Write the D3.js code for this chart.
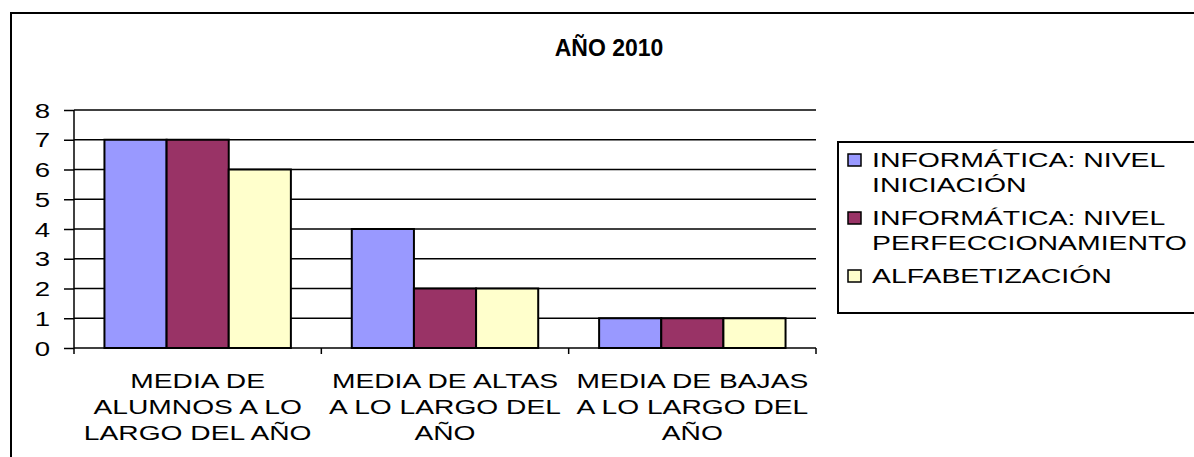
<!DOCTYPE html>
<html><head><meta charset="utf-8">
<script src="https://cdn.jsdelivr.net/npm/d3@7"></script>
<style>html,body{margin:0;padding:0;background:#fff;}svg{display:block;}</style>
</head><body>
<svg id="c" width="1194" height="457"></svg>
<script>
const categories = ["MEDIA DE ALUMNOS A LO LARGO DEL AÑO","MEDIA DE ALTAS A LO LARGO DEL AÑO","MEDIA DE BAJAS A LO LARGO DEL AÑO"];
const categoryLines = [["MEDIA DE","ALUMNOS A LO","LARGO DEL AÑO"],["MEDIA DE ALTAS","A LO LARGO DEL","AÑO"],["MEDIA DE BAJAS","A LO LARGO DEL","AÑO"]];
const seriesNames = ["INFORMÁTICA: NIVEL INICIACIÓN","INFORMÁTICA: NIVEL PERFECCIONAMIENTO","ALFABETIZACIÓN"];
const seriesLines = [["INFORMÁTICA: NIVEL","INICIACIÓN"],["INFORMÁTICA: NIVEL","PERFECCIONAMIENTO"],["ALFABETIZACIÓN"]];
const iniciacion = [7,4,1];
const perfeccionamiento = [7,2,1];
const alfabetizacion = [6,2,1];
const yTicks = [0,1,2,3,4,5,6,7,8];
const title = "AÑO 2010";
const colors = ["#9999FF","#993366","#FFFFCC"];

const seriesValues = [iniciacion, perfeccionamiento, alfabetizacion];
const svg = d3.select("#c");
const FONT = "'Liberation Sans', Arial, sans-serif";

// outer frame
svg.append("path").attr("d","M11,458 L11,13 L1195,13").attr("fill","none").attr("stroke","#000").attr("stroke-width",2);

const pLeft=74, pRight=816, pTop=110, pBottom=348;
const x0 = d3.scaleBand().domain(categories).range([pLeft,pRight]).paddingInner(0).paddingOuter(0);
const x1 = d3.scaleBand().domain(seriesNames).range([0, x0.bandwidth()]).paddingOuter(0.49).paddingInner(0);
const y = d3.scaleLinear().domain([0,8]).range([pBottom, pTop]);

// gridlines
svg.append("g").selectAll("line").data(yTicks.filter(t=>t>0)).join("line")
  .attr("x1",pLeft).attr("x2",pRight).attr("y1",d=>y(d)).attr("y2",d=>y(d))
  .attr("stroke","#000").attr("stroke-width",1.5);

// bars
const g = svg.append("g");
categories.forEach((c,ci)=>{
  seriesNames.forEach((s,si)=>{
    g.append("rect").attr("x",x0(c)+x1(s)).attr("width",x1.bandwidth())
      .attr("y",y(seriesValues[si][ci])).attr("height",y(0)-y(seriesValues[si][ci]))
      .attr("fill",colors[si]).attr("stroke","#000").attr("stroke-width",2);
  });
});

// y axis
const yAxis = d3.axisLeft(y).tickValues(yTicks).tickSize(10).tickFormat(d3.format("d"));
const ya = svg.append("g").attr("transform",`translate(${pLeft},0)`).call(yAxis);
ya.select(".domain").attr("stroke","#000").attr("stroke-width",1.5).attr("d",`M0,${pTop}V${pBottom}`);
ya.selectAll(".tick line").attr("stroke","#000").attr("stroke-width",1.5);
ya.selectAll(".tick text").remove();
ya.selectAll(".tick").append("text")
  .attr("transform",`translate(-24,0) scale(1.38,1)`)
  .attr("dy","0.36em").attr("text-anchor","end")
  .attr("font-family",FONT).attr("font-size",20).attr("fill","#000").text(d=>d);

// x axis
const xAxisG = svg.append("g").attr("transform",`translate(0,${pBottom})`);
xAxisG.append("line").attr("x1",pLeft).attr("x2",pRight).attr("y1",0).attr("y2",0).attr("stroke","#000").attr("stroke-width",1.5);
const xt = [pLeft].concat(categories.map(c=>x0(c)+x0.bandwidth()));
xAxisG.selectAll("line.t").data(xt).join("line").attr("class","t")
  .attr("x1",d=>d).attr("x2",d=>d).attr("y1",0).attr("y2",6).attr("stroke","#000").attr("stroke-width",1.5);
categories.forEach((c,ci)=>{
  const cx = x0(c)+x0.bandwidth()/2;
  categoryLines[ci].forEach((ln,li)=>{
    svg.append("text").attr("transform",`translate(${cx},${388+li*26}) scale(1.41,1)`)
      .attr("text-anchor","middle").attr("font-family",FONT).attr("font-size",20).attr("fill","#000").text(ln);
  });
});

// title
svg.append("text").attr("transform",`translate(609,56)`).attr("text-anchor","middle")
  .attr("font-family",FONT).attr("font-weight","bold").attr("font-size",23).attr("fill","#000").text(title);

// legend
svg.append("path").attr("d","M1195,142 H838 V313 H1195").attr("fill","#fff").attr("stroke","#000").attr("stroke-width",2);
const legY = [160,218,276];
seriesNames.forEach((s,si)=>{
  svg.append("rect").attr("x",848).attr("y",legY[si]-6).attr("width",13).attr("height",12)
    .attr("fill",colors[si]).attr("stroke","#000").attr("stroke-width",1.5);
  seriesLines[si].forEach((ln,li)=>{
    svg.append("text").attr("transform",`translate(872,${legY[si]+li*25}) scale(1.42,1)`)
      .attr("dy","0.36em").attr("font-family",FONT).attr("font-size",20).attr("fill","#000").text(ln);
  });
});
</script>
</body></html>
